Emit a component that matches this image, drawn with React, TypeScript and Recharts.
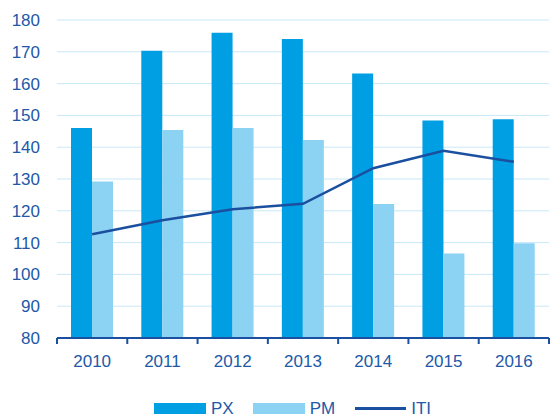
import React from 'react';
import { ComposedChart, Bar, Line, XAxis, YAxis, CartesianGrid, Legend } from 'recharts';

const years = ['2010', '2011', '2012', '2013', '2014', '2015', '2016'];
const pxValues = [146, 170.3, 176, 174, 163.2, 148.4, 148.8];
const pmValues = [129.2, 145.4, 146, 142.3, 122.1, 106.6, 109.8];
const itiValues = [112.6, 117, 120.5, 122.2, 133.4, 138.9, 135.4];
const yTicks = [80, 90, 100, 110, 120, 130, 140, 150, 160, 170, 180];

const data = years.map((year, i) => ({
  year,
  PX: pxValues[i],
  PM: pmValues[i],
  ITI: itiValues[i],
}));

const PX_COLOR = '#009fe3';
const PM_COLOR = '#8cd3f3';
const ITI_COLOR = '#1b4f9f';
const TEXT_COLOR = '#2159a8';
const FONT = '"Liberation Sans", Arial, sans-serif';

const WIDTH = 550;
const HEIGHT = 419;
const PLOT_LEFT = 57;
const PLOT_RIGHT = 1;
const HALF_BAND = (WIDTH - PLOT_LEFT - PLOT_RIGHT) / years.length / 2;

// tick marks sit on category boundaries, labels at category centres
const XTick = (props: any) => {
  const { x, y, payload, index } = props;
  const last = index === years.length - 1;
  return (
    <g>
      <line x1={x - HALF_BAND} x2={x - HALF_BAND} y1={y - 17} y2={y - 11} stroke={ITI_COLOR} strokeWidth={2} />
      {last && (
        <line x1={x + HALF_BAND} x2={x + HALF_BAND} y1={y - 17} y2={y - 11} stroke={ITI_COLOR} strokeWidth={2} />
      )}
      <text x={x} y={y} dy="0.71em" textAnchor="middle" fill={TEXT_COLOR} fontSize={17} fontFamily={FONT}>
        {payload.value}
      </text>
    </g>
  );
};

const LegendContent = () => (
  <div style={{ display: 'flex', alignItems: 'center', height: 19, lineHeight: '19px', paddingLeft: 154, fontFamily: FONT, fontSize: 17, color: TEXT_COLOR }}>
    <span style={{ width: 52, height: 11, background: PX_COLOR, marginRight: 5 }} />
    <span style={{ marginRight: 19 }}>PX</span>
    <span style={{ width: 52, height: 11, background: PM_COLOR, marginRight: 5 }} />
    <span style={{ marginRight: 20 }}>PM</span>
    <span style={{ width: 51, height: 3, background: ITI_COLOR, marginRight: 5 }} />
    <span>ITI</span>
  </div>
);

export default function App() {
  return (
    <div style={{ position: 'absolute', left: 0, top: 0, width: WIDTH, height: HEIGHT, background: '#fff' }}>
      <ComposedChart
        width={WIDTH}
        height={HEIGHT}
        data={data}
        margin={{ top: 20, right: PLOT_RIGHT, left: 0, bottom: 32 }}
        barGap={0}
        barCategoryGap="20%"
      >
        <CartesianGrid vertical={false} stroke="#c8e8f8" strokeWidth={1} />
        <XAxis
          dataKey="year"
          height={30}
          axisLine={{ stroke: ITI_COLOR, strokeWidth: 2 }}
          tickLine={false}
          tickSize={5}
          tickMargin={12}
          interval={0}
          tick={<XTick />}
        />
        <YAxis
          width={PLOT_LEFT}
          domain={[80, 180]}
          ticks={yTicks}
          axisLine={false}
          tickLine={false}
          tickSize={0}
          tickMargin={17}
          tick={{ fill: TEXT_COLOR, fontSize: 17, fontFamily: FONT }}
          allowDataOverflow
        />
        <Legend verticalAlign="bottom" wrapperStyle={{ top: 399, bottom: 'auto', left: 0, width: WIDTH }} content={<LegendContent />} />
        <Bar dataKey="PX" fill={PX_COLOR} barSize={21} isAnimationActive={false} />
        <Bar dataKey="PM" fill={PM_COLOR} barSize={21} isAnimationActive={false} />
        <Line type="linear" dataKey="ITI" stroke={ITI_COLOR} strokeWidth={2.5} dot={false} activeDot={false} isAnimationActive={false} />
      </ComposedChart>
    </div>
  );
}
